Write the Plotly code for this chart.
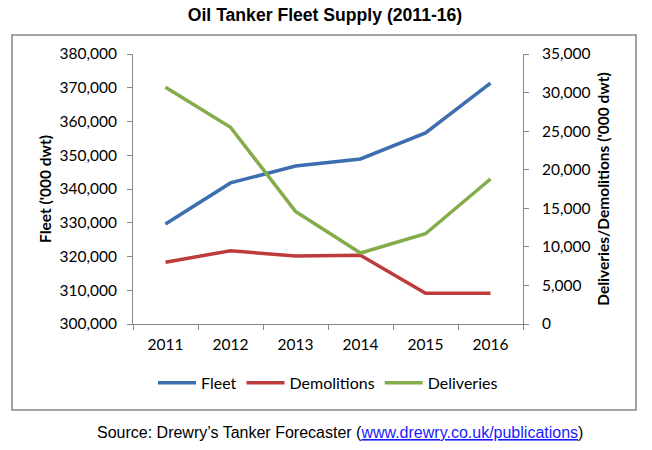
import plotly.graph_objects as go

years = ["2011", "2012", "2013", "2014", "2015", "2016"]
fleet = [329600, 341800, 346800, 348900, 356600, 371400]
demolitions = [8000, 9500, 8800, 8900, 4000, 4000]
deliveries = [30700, 25500, 14600, 9200, 11700, 18800]

fig = go.Figure()
fig.add_trace(go.Scatter(x=years, y=fleet, name="Fleet", mode="lines",
                         line=dict(color="#3D6EB0", width=3.5)))
fig.add_trace(go.Scatter(x=years, y=demolitions, name="Demolitions", mode="lines",
                         line=dict(color="#BE3B3B", width=3.5), yaxis="y2"))
fig.add_trace(go.Scatter(x=years, y=deliveries, name="Deliveries", mode="lines",
                         line=dict(color="#85AC4A", width=3.5), yaxis="y2"))

axis_font = dict(family="Lato, Open Sans, sans-serif", size=15.5, color="#000")

fig.update_layout(
    width=652, height=450,
    margin=dict(l=133, r=129, t=54, b=126, autoexpand=False),
    paper_bgcolor="white", plot_bgcolor="white",
    title=dict(text="<b>Oil Tanker Fleet Supply (2011-16)</b>", x=325 / 652,
               xanchor="center", y=1 - 15 / 450, yanchor="middle", automargin=False,
               font=dict(family="Liberation Sans, Arial", size=17.6, color="#000")),
    xaxis=dict(type="category", tickson="boundaries", ticks="outside", ticklen=5,
               tickcolor="#868686", linecolor="#868686", linewidth=1, showline=True,
               showgrid=False, tickfont=axis_font, range=[-0.5, 5.5], automargin=False,
               ticklabelstandoff=6),
    yaxis=dict(range=[300000, 380000], dtick=10000, tickformat=",d", ticks="outside",
               ticklen=5, tickcolor="#868686", linecolor="#868686", showline=True,
               showgrid=False, zeroline=False, tickfont=axis_font, automargin=False,
               ticklabelstandoff=7,
               title=dict(text="<b>Fleet ('000 dwt)</b>", font=axis_font, standoff=4)),
    yaxis2=dict(range=[0, 35000], dtick=5000, tickformat=",d", overlaying="y", side="right",
                ticks="outside", ticklen=5, tickcolor="#868686", linecolor="#868686",
                showline=True, showgrid=False, zeroline=False, tickfont=axis_font,
                automargin=False, ticklabelstandoff=10,
                title=dict(text="<b>Deliveries/Demolitions ('000 dwt)</b>", font=axis_font,
                           standoff=8)),
    legend=dict(orientation="h", x=0.5, xanchor="center", y=-0.218, yanchor="middle",
                font=dict(family="Lato, Open Sans, sans-serif", size=16, color="#000"),
                itemwidth=38, bgcolor="rgba(0,0,0,0)"),
    showlegend=True,
)

# chart border
fig.add_shape(type="rect", xref="paper", yref="paper",
              x0=(12 - 133) / 390, x1=(636 - 133) / 390,
              y0=(324 - 410) / 270, y1=(324 - 35) / 270,
              line=dict(color="#868686", width=1.5), fillcolor="rgba(0,0,0,0)")

fig.add_annotation(
    text="Source: Drewry\u2019s Tanker Forecaster (<span style='color:#1a1aff'><u>www.drewry.co.uk/publications</u></span>)",
    xref="paper", yref="paper", x=(340 - 133) / 390, y=(324 - 432) / 270,
    xanchor="center", yanchor="middle", showarrow=False,
    font=dict(family="Liberation Sans, Arial", size=16, color="#000"))

# drop the default 8px body margin so the figure sits at the page corner
fig.write_html("out.html", config={"displayModeBar": False},
               post_script="document.body.style.margin='0';")
